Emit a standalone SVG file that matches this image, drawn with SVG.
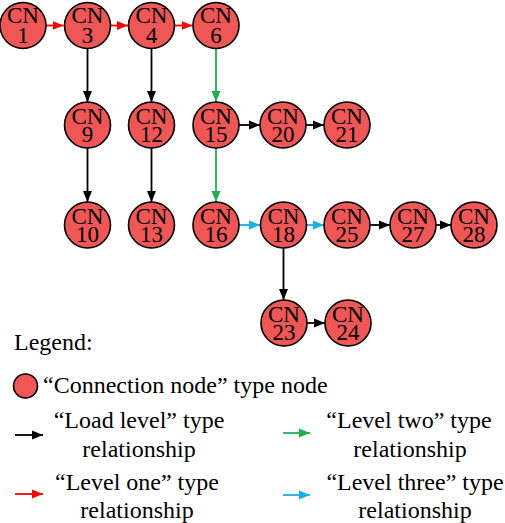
<svg xmlns="http://www.w3.org/2000/svg" width="505" height="523" viewBox="0 0 505 523">
<defs>
<marker id="ak" markerUnits="userSpaceOnUse" markerWidth="12" markerHeight="10" refX="11" refY="5" orient="auto"><path d="M0,0.5 L11,5 L0,9.5 Z" fill="#000"/></marker>
<marker id="ar" markerUnits="userSpaceOnUse" markerWidth="12" markerHeight="10" refX="11" refY="5" orient="auto"><path d="M0,0.5 L11,5 L0,9.5 Z" fill="#FF0000"/></marker>
<marker id="ag" markerUnits="userSpaceOnUse" markerWidth="12" markerHeight="10" refX="11" refY="5" orient="auto"><path d="M0,0.5 L11,5 L0,9.5 Z" fill="#1DB04F"/></marker>
<marker id="ab" markerUnits="userSpaceOnUse" markerWidth="12" markerHeight="10" refX="11" refY="5" orient="auto"><path d="M0,0.5 L11,5 L0,9.5 Z" fill="#1AAEE8"/></marker>
<circle id="node" r="23" fill="#EF5656" stroke="#000" stroke-width="1.6"/>
</defs>
<rect width="505" height="523" fill="#fff"/>
<g id="connectors" stroke-width="1.8" fill="none">
<g stroke="#FF0000" marker-end="url(#ar)">
<line x1="46" y1="25.5" x2="63.5" y2="25.5"/>
<line x1="110.5" y1="25.5" x2="128" y2="25.5"/>
<line x1="175" y1="25.5" x2="192.5" y2="25.5"/>
</g>
<g stroke="#1DB04F" marker-end="url(#ag)">
<line x1="216" y1="48.5" x2="216" y2="102"/>
<line x1="216" y1="148" x2="216" y2="202"/>
</g>
<g stroke="#1AAEE8" marker-end="url(#ab)">
<line x1="239" y1="225" x2="260" y2="225"/>
<line x1="306" y1="225" x2="324" y2="225"/>
</g>
<g stroke="#000" marker-end="url(#ak)">
<line x1="87.5" y1="48.5" x2="87.5" y2="102"/>
<line x1="151.5" y1="48.5" x2="151.5" y2="102"/>
<line x1="87.5" y1="148" x2="87.5" y2="202"/>
<line x1="151.5" y1="148" x2="151.5" y2="202"/>
<line x1="239" y1="125" x2="260" y2="125"/>
<line x1="306" y1="125" x2="324" y2="125"/>
<line x1="370" y1="225" x2="390" y2="225"/>
<line x1="436" y1="225" x2="451" y2="225"/>
<line x1="283.5" y1="248" x2="283.5" y2="300"/>
<line x1="307" y1="323" x2="325" y2="323"/>
</g>
</g>
<g id="nodes" font-family="Liberation Serif" font-size="23" text-anchor="middle" fill="#000">
<g id="CN1"><use href="#node" x="23" y="25.5"/><text x="23" y="23">CN</text><text x="23" y="42.5">1</text></g>
<g id="CN3"><use href="#node" x="87.5" y="25.5"/><text x="87.5" y="23">CN</text><text x="87.5" y="42.5">3</text></g>
<g id="CN4"><use href="#node" x="151.5" y="25.5"/><text x="151.5" y="23">CN</text><text x="151.5" y="42.5">4</text></g>
<g id="CN6"><use href="#node" x="216" y="25.5"/><text x="216" y="23">CN</text><text x="216" y="42.5">6</text></g>
<g id="CN9"><use href="#node" x="87.5" y="125"/><text x="87.5" y="123.5">CN</text><text x="87.5" y="142">9</text></g>
<g id="CN12"><use href="#node" x="151.5" y="125"/><text x="151.5" y="123.5">CN</text><text x="151.5" y="142">12</text></g>
<g id="CN15"><use href="#node" x="216" y="125"/><text x="216" y="123.5">CN</text><text x="216" y="142">15</text></g>
<g id="CN20"><use href="#node" x="283" y="125"/><text x="283" y="123.5">CN</text><text x="283" y="142">20</text></g>
<g id="CN21"><use href="#node" x="347" y="125"/><text x="347" y="123.5">CN</text><text x="347" y="142">21</text></g>
<g id="CN10"><use href="#node" x="87.5" y="225"/><text x="87.5" y="223.5">CN</text><text x="87.5" y="242">10</text></g>
<g id="CN13"><use href="#node" x="151.5" y="225"/><text x="151.5" y="223.5">CN</text><text x="151.5" y="242">13</text></g>
<g id="CN16"><use href="#node" x="216" y="225"/><text x="216" y="223.5">CN</text><text x="216" y="242">16</text></g>
<g id="CN18"><use href="#node" x="283.5" y="225"/><text x="283.5" y="223.5">CN</text><text x="283.5" y="242">18</text></g>
<g id="CN25"><use href="#node" x="347" y="225"/><text x="347" y="223.5">CN</text><text x="347" y="242">25</text></g>
<g id="CN27"><use href="#node" x="413" y="225"/><text x="413" y="223.5">CN</text><text x="413" y="242">27</text></g>
<g id="CN28"><use href="#node" x="474" y="225"/><text x="474" y="223.5">CN</text><text x="474" y="242">28</text></g>
<g id="CN23"><use href="#node" x="284" y="323"/><text x="284" y="321.5">CN</text><text x="284" y="340">23</text></g>
<g id="CN24"><use href="#node" x="348" y="323"/><text x="348" y="321.5">CN</text><text x="348" y="340">24</text></g>
</g>
<g id="legend" font-family="Liberation Serif" font-size="24" fill="#000">
<text x="14" y="350">Legend:</text>
<circle cx="25.5" cy="386" r="12" fill="#EF5656" stroke="#000" stroke-width="1.6"/>
<text x="43" y="393">&#8220;Connection node&#8221; type node</text>
<g stroke-width="1.8" fill="none">
<line stroke="#000" x1="15" y1="435" x2="43" y2="435" marker-end="url(#ak)"/>
<line stroke="#FF0000" x1="15" y1="494" x2="43" y2="494" marker-end="url(#ar)"/>
<line stroke="#1DB04F" x1="283" y1="433" x2="310" y2="433" marker-end="url(#ag)"/>
<line stroke="#1AAEE8" x1="283" y1="495" x2="310" y2="495" marker-end="url(#ab)"/>
</g>
<g text-anchor="middle">
<text x="139" y="428">&#8220;Load level&#8221; type</text>
<text x="139" y="457">relationship</text>
<text x="137" y="490">&#8220;Level one&#8221; type</text>
<text x="137" y="518">relationship</text>
<text x="409" y="428">&#8220;Level two&#8221; type</text>
<text x="410" y="457">relationship</text>
<text x="415" y="490">&#8220;Level three&#8221; type</text>
<text x="415" y="518">relationship</text>
</g>
</g>
</svg>
